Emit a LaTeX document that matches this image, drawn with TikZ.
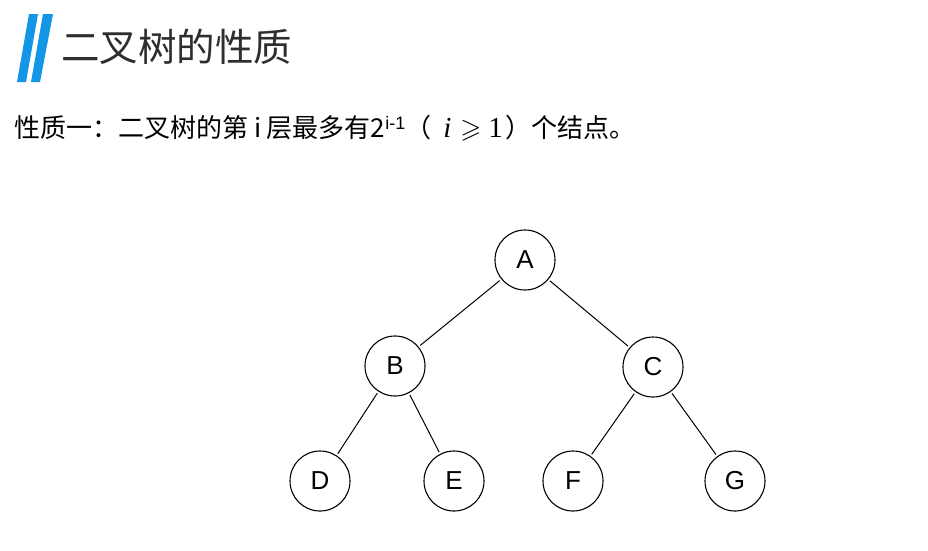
\documentclass[tikz,border=0pt]{standalone}
\usepackage{amssymb}
\usepackage{fontspec}
\setmainfont{Liberation Sans}
\newfontfamily\cjk{Noto Sans CJK SC}
\newfontfamily\tnr{Liberation Serif}
\definecolor{barblue}{HTML}{1496E6}
\definecolor{titlegray}{HTML}{2E2E2E}
\begin{document}
\begin{tikzpicture}[x=1pt,y=1pt,
  treenode/.style={circle,draw,line width=1.1pt,minimum size=60pt,inner sep=0pt,font=\fontsize{26}{26}\selectfont},
  edge/.style={line width=1pt,shorten <=2pt,shorten >=2pt}]
\useasboundingbox[fill=white] (0,0) rectangle (928,-550);
% title bars
\fill[barblue] (29,-14) -- (38,-14) -- (26,-82) -- (17,-82) -- cycle;
\fill[barblue] (43,-14) -- (53,-14) -- (40,-82) -- (31,-82) -- cycle;
\node[anchor=base west,inner sep=0pt,text=titlegray,font=\cjk\fontsize{38.5}{38.5}\selectfont] (title) at (61,-61) {二叉树的性质};
\node[anchor=base west,inner sep=0pt,font=\cjk\fontsize{26}{26}\selectfont] (prop) at (14,-137)
  {性质一：二叉树的第 i 层最多有2{\rmfamily\fontsize{18}{18}\selectfont\raisebox{8pt}{i-1}}（\hspace{12pt}{\tnr\itshape\fontsize{29}{29}\selectfont i}\hspace{9pt}{\fontsize{27}{27}\selectfont$\geqslant$}\hspace{7pt}{\tnr\fontsize{29}{29}\selectfont 1}\hspace{3pt}）个结点。};
% tree
\node[treenode] (A) at (525,-260) {A};
\node[treenode] (B) at (395,-366) {B};
\node[treenode] (C) at (653,-367) {C};
\node[treenode] (D) at (320,-481) {D};
\node[treenode] (E) at (454,-481) {E};
\node[treenode] (F) at (573,-481) {F};
\node[treenode] (G) at (735,-481) {G};
\draw[edge] (A) -- (B);
\draw[edge] (A) -- (C);
\draw[edge] (B) -- (D);
\draw[edge] (B) -- (E);
\draw[edge] (C) -- (F);
\draw[edge] (C) -- (G);
\end{tikzpicture}
\end{document}
